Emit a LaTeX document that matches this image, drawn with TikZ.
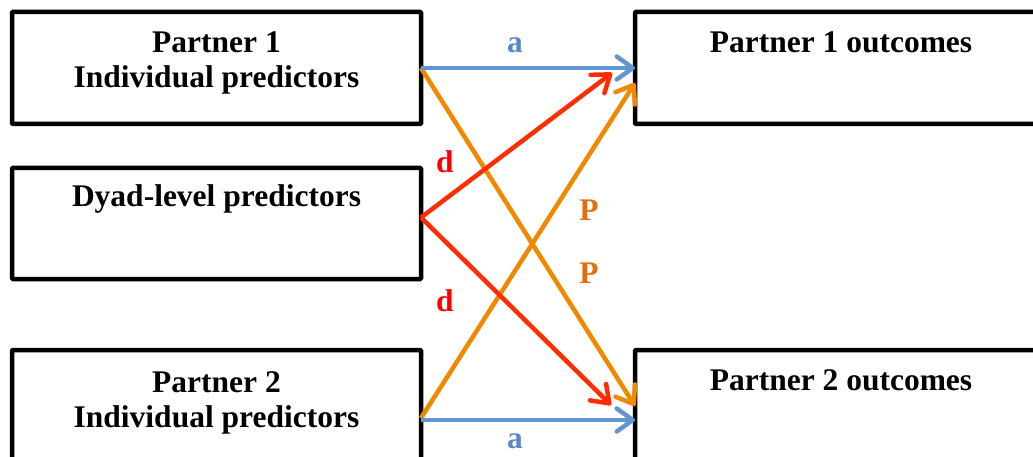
\documentclass[tikz,border=0pt]{standalone}
\usepackage{fontspec}
\setmainfont{Liberation Serif}
\usetikzlibrary{arrows.meta,calc}
\definecolor{lineblue}{RGB}{98,150,208}
\definecolor{lineorange}{RGB}{240,136,0}
\definecolor{linered}{RGB}{255,45,0}
\definecolor{labblue}{RGB}{88,136,198}
\definecolor{labred}{RGB}{255,0,0}
\definecolor{laborange}{RGB}{228,110,12}
\begin{document}
\begin{tikzpicture}[x=1pt,y=-1pt,
  box/.style={draw=black,line width=4.5pt,outer sep=0pt,inner sep=0pt,anchor=north west,rounded corners=1pt},
  txt/.style={font=\bfseries\fontsize{31.5}{35}\selectfont,anchor=base,inner sep=0pt},
  arr/.style={line width=4.5pt,-{Straight Barb[length=16pt,width=23pt,round]}}]
\useasboundingbox (0,0) rectangle (1033,457);
% boxes
\node[box,minimum width=409pt,minimum height=112pt] (p1) at (12,12) {};
\node[box,minimum width=409pt,minimum height=111pt] (dy) at (12,168) {};
\node[box,minimum width=409pt,minimum height=130pt] (p2) at (12,350) {};
\node[box,minimum width=420pt,minimum height=112pt] (o1) at (635,12) {};
\node[box,minimum width=420pt,minimum height=130pt] (o2) at (635,350) {};
% texts
\node[txt] (p1a) at ($(p1.north)+(0,41)$) {Partner 1};
\node[txt] (p1b) at ($(p1.north)+(0,76)$) {Individual predictors};
\node[txt] (dya) at ($(dy.north)+(0,39)$) {Dyad-level predictors};
\node[txt] (p2a) at ($(p2.north)+(0,42)$) {Partner 2};
\node[txt] (p2b) at ($(p2.north)+(0,77)$) {Individual predictors};
\node[txt] (o1a) at (841,53) {Partner 1 outcomes};
\node[txt] (o2a) at (841,390) {Partner 2 outcomes};
% connector ends
\coordinate (dys) at ($(dy.east)+(0,-6)$);
\coordinate (p2s) at ($(p2.north east)+(0,68)$);
\coordinate (p2b0) at ($(p2.north east)+(0,70)$);
\coordinate (o1o) at ($(o1.north west)+(0,71)$);
\coordinate (o1r) at (612,73);
\coordinate (o2r) at (611,405);
\coordinate (o2o) at ($(o2.north west)+(0,56)$);
\coordinate (o2b) at ($(o2.north west)+(0,70)$);
% connectors
\draw[arr,lineorange] (p1.east) -- (o2o);
\draw[arr,lineorange] (p2s) -- (o1o);
\draw[arr,linered] (dys) -- (o1r);
\draw[arr,linered] (dys) -- (o2r);
\draw[arr,lineblue] (p1.east) -- (o1.west);
\draw[arr,lineblue] (p2b0) -- (o2b);
% labels
\node[txt,text=labblue] (la1) at (515,53) {a};
\node[txt,text=labblue] (la2) at (515,448) {a};
\node[txt,text=labred] (ld1) at (445,173) {d};
\node[txt,text=labred] (ld2) at (445,311) {d};
\node[txt,text=laborange] (lp1) at (589,220) {P};
\node[txt,text=laborange] (lp2) at (589,283) {P};
\end{tikzpicture}
\end{document}
